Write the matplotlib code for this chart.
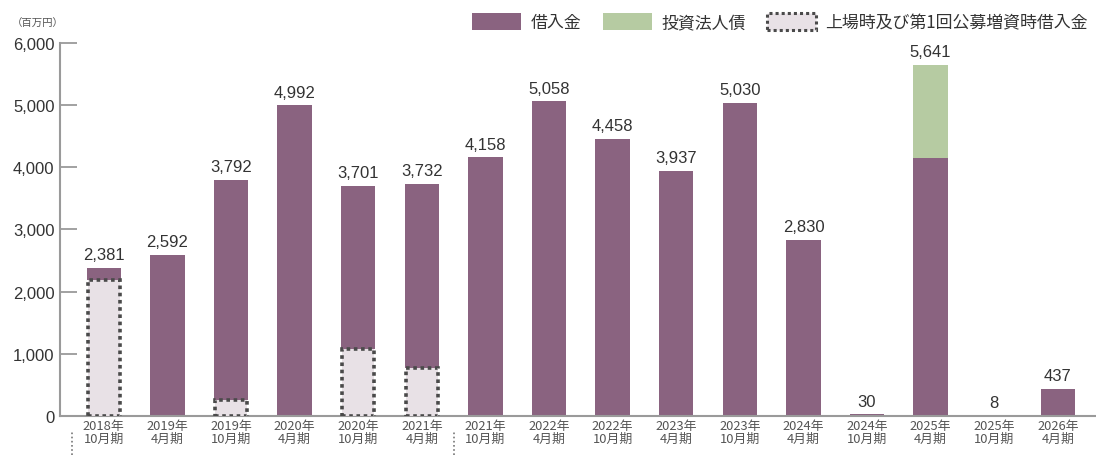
import matplotlib
matplotlib.use("Agg")
import matplotlib.pyplot as plt
import matplotlib.transforms as mtransforms
from matplotlib.patches import Patch
import numpy as np

plt.rcParams["font.family"] = ["Noto Sans CJK JP", "DejaVu Sans"]
NUM_FONT = ["Liberation Sans", "DejaVu Sans"]

# ---------------------------------------------------------------------------
# Data (百万円)
# ---------------------------------------------------------------------------
periods = [
    "2018年\n10月期", "2019年\n4月期", "2019年\n10月期", "2020年\n4月期",
    "2020年\n10月期", "2021年\n4月期", "2021年\n10月期", "2022年\n4月期",
    "2022年\n10月期", "2023年\n4月期", "2023年\n10月期", "2024年\n4月期",
    "2024年\n10月期", "2025年\n4月期", "2025年\n10月期", "2026年\n4月期",
]
totals = [2381, 2592, 3792, 4992, 3701, 3732, 4158, 5058,
          4458, 3937, 5030, 2830, 30, 5641, 8, 437]
ipo_loans = [2180, 0, 250, 0, 1080, 770, 0, 0,
             0, 0, 0, 0, 0, 0, 0, 0]
bonds = [0, 0, 0, 0, 0, 0, 0, 0,
         0, 0, 0, 0, 0, 1500, 0, 0]
loans = [t - i - b for t, i, b in zip(totals, ipo_loans, bonds)]

legend_labels = ["借入金", "投資法人債", "上場時及び第1回公募増資時借入金"]
separators = [-0.5, 5.5]

# ---------------------------------------------------------------------------
# Style
# ---------------------------------------------------------------------------
COLOR_LOAN = "#8A6380"
COLOR_BOND = "#B6CBA2"
COLOR_IPO = "#E8E1E6"
COLOR_DOT = "#4A4A4A"
COLOR_TEXT = "#333333"
COLOR_AXIS = "#9A9A9A"
DOTS = (0, (1, 1))

fig = plt.figure(figsize=(10.96, 4.56), dpi=100)
ax = fig.add_axes([0.0547, 0.0855, 0.9453, 0.819])

x = np.arange(len(periods))
ipo = np.array(ipo_loans)
ln = np.array(loans)
bd = np.array(bonds)
width = 0.54

ax.bar(x, ln, width, bottom=ipo, color=COLOR_LOAN, zorder=2)
ax.bar(x, bd, width, bottom=ipo + ln, color=COLOR_BOND, zorder=2)
mask = ipo > 0
ax.bar(x[mask], ipo[mask], width * 0.93, color=COLOR_IPO,
       edgecolor=COLOR_DOT, linewidth=2.6, linestyle=DOTS, zorder=3)

for xi, v in zip(x, totals):
    ax.annotate(f"{v:,}", (xi, v), xytext=(0, 4), textcoords="offset points",
                ha="center", va="bottom", fontsize=12, color=COLOR_TEXT,
                family=NUM_FONT)

ax.set_xlim(-0.69, 15.6)
ax.set_ylim(0, 6000)
ax.set_yticks(range(0, 6001, 1000))
ax.set_yticklabels([f"{v:,}" for v in range(0, 6001, 1000)], family=NUM_FONT)
ax.set_xticks(x)
ax.set_xticklabels(periods, linespacing=1.05)

for side in ("top", "right"):
    ax.spines[side].set_visible(False)
for side in ("left", "bottom"):
    ax.spines[side].set_color(COLOR_AXIS)
    ax.spines[side].set_linewidth(1.5)

ax.tick_params(axis="y", direction="in", length=12, width=1.3,
               color=COLOR_AXIS, labelsize=12, labelcolor=COLOR_TEXT, pad=4)
ax.tick_params(axis="x", length=0, labelsize=9.3, labelcolor="#555555", pad=2)

# dotted separators in the label row
trans = mtransforms.blended_transform_factory(ax.transData, fig.transFigure)
for sx in separators:
    ax.plot([sx, sx], [0.0, 0.05], transform=trans, color="#777777",
            linewidth=1.2, linestyle=(0, (1, 1.5)), clip_on=False)

fig.text(0.011, 0.948, "（百万円）", fontsize=7.5, color="#555555",
         ha="left", va="center")

handles = [
    Patch(facecolor=COLOR_LOAN, edgecolor="none"),
    Patch(facecolor=COLOR_BOND, edgecolor="none"),
    Patch(facecolor=COLOR_IPO, edgecolor=COLOR_DOT, linewidth=2.2, linestyle=DOTS),
]
fig.legend(handles, legend_labels, loc="center right",
           bbox_to_anchor=(1.0, 0.95), ncol=3, frameon=False, fontsize=12.2,
           handlelength=2.9, handleheight=1.2, handletextpad=0.55,
           columnspacing=1.25, borderaxespad=0.1, labelcolor=COLOR_TEXT)

fig.savefig("out.png", dpi=100)
